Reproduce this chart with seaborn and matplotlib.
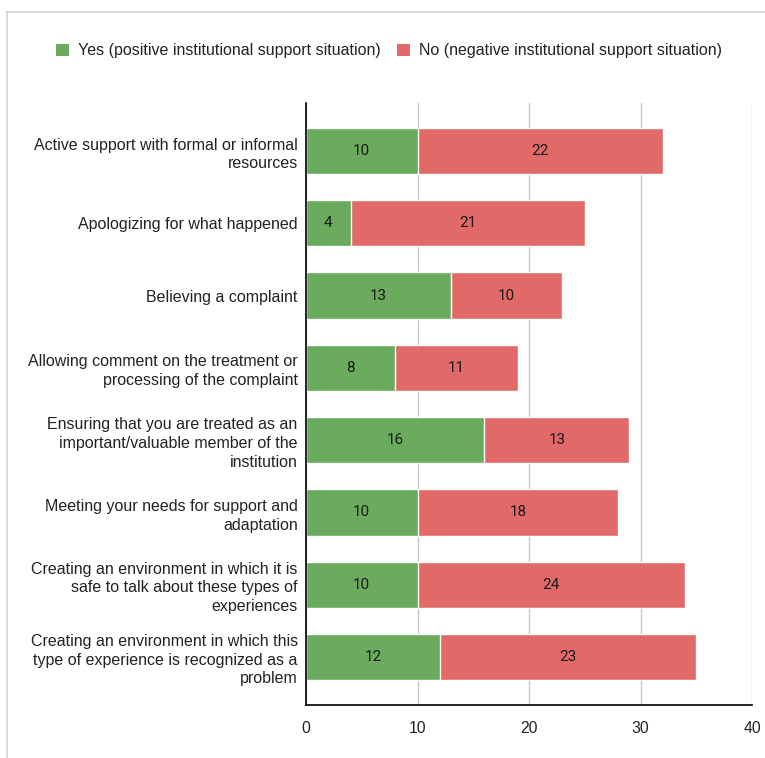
import matplotlib
matplotlib.use("Agg")
import matplotlib.pyplot as plt
import seaborn as sns
import pandas as pd
from matplotlib.lines import Line2D
from matplotlib.patches import Patch

categories = [
    "Active support with formal or informal\nresources",
    "Apologizing for what happened",
    "Believing a complaint",
    "Allowing comment on the treatment or\nprocessing of the complaint",
    "Ensuring that you are treated as an\nimportant/valuable member of the\ninstitution",
    "Meeting your needs for support and\nadaptation",
    "Creating an environment in which it is\nsafe to talk about these types of\nexperiences",
    "Creating an environment in which this\ntype of experience is recognized as a\nproblem",
]
yes_values = [10, 4, 13, 8, 16, 10, 10, 12]
no_values = [22, 21, 10, 11, 13, 18, 24, 23]
series_names = ["Yes (positive institutional support situation)",
                "No (negative institutional support situation)"]
x_ticks = [0, 10, 20, 30, 40]

GREEN = "#6aab5d"
RED = "#e16a68"

df = pd.DataFrame({"category": categories, "yes": yes_values, "no": no_values})
df["total"] = df["yes"] + df["no"]

sns.set_theme(style="white")
plt.rcParams["font.family"] = ["Liberation Sans", "DejaVu Sans"]

fig = plt.figure(figsize=(7.65, 7.58), dpi=100)
ax = fig.add_axes([306 / 765, 1 - 705 / 758, (752 - 306) / 765, (705 - 103) / 758])

sns.barplot(data=df, y="category", x="total", color=RED, orient="h",
            width=0.64, ax=ax, saturation=1, zorder=3)
sns.barplot(data=df, y="category", x="yes", color=GREEN, orient="h",
            width=0.64, ax=ax, saturation=1, zorder=4)

for i, (y, n) in enumerate(zip(yes_values, no_values)):
    ax.text(y / 2, i, str(y), ha="center", va="center", fontsize=11,
            family=["Roboto", "DejaVu Sans"], color="#1a1a1a", zorder=5)
    ax.text(y + n / 2, i, str(n), ha="center", va="center", fontsize=11,
            family=["Roboto", "DejaVu Sans"], color="#1a1a1a", zorder=5)

ax.set_xlim(0, 40)
ax.set_ylim(len(categories) - 1 + 0.665, -0.665)
ax.set_xticks(x_ticks)
ax.set_xticklabels([str(t) for t in x_ticks], fontsize=11.3, color="#222222")
ax.set_xlabel("")
ax.set_ylabel("")
ax.tick_params(axis="y", labelsize=11.5, length=0, pad=6, labelcolor="#222222")
ax.tick_params(axis="x", direction="inout", length=9, width=1.2, color="black", pad=7)
for lab in ax.get_yticklabels():
    lab.set_linespacing(1.3)

ax.grid(axis="x", color="#c8c8c8", linewidth=1, zorder=0)
ax.grid(axis="y", visible=False)
for s in ["top", "right"]:
    ax.spines[s].set_visible(False)
ax.spines["left"].set_color("black")
ax.spines["left"].set_linewidth(1.2)
ax.spines["left"].set_zorder(6)
ax.spines["bottom"].set_color("black")
ax.spines["bottom"].set_linewidth(1.2)

handles = [Patch(facecolor=GREEN, edgecolor="none"), Patch(facecolor=RED, edgecolor="none")]
fig.legend(handles, series_names, loc="center", bbox_to_anchor=(389 / 765, 1 - 51 / 758),
           ncol=2, frameon=False, fontsize=11.5, handlelength=0.8, handleheight=0.8,
           handletextpad=0.6, columnspacing=1.0, labelcolor="#222222")

# light frame of the original chart box
fig.add_artist(Line2D([6 / 765, 1], [1 - 12 / 758, 1 - 12 / 758], transform=fig.transFigure,
                      color="#d4d4d4", linewidth=1.2))
fig.add_artist(Line2D([7 / 765, 7 / 765], [0, 1 - 12 / 758], transform=fig.transFigure,
                      color="#d4d4d4", linewidth=1.2))

fig.savefig("out.png", dpi=100, facecolor="white")
